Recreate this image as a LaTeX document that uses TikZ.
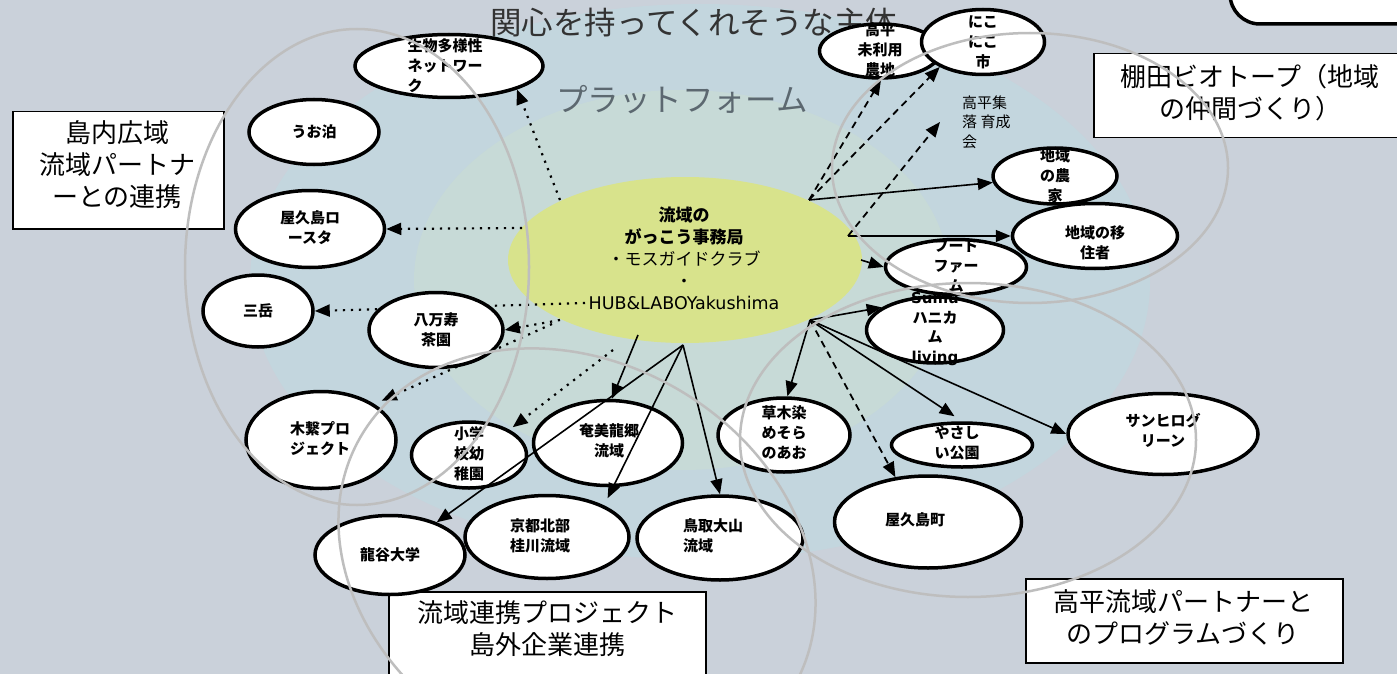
\documentclass[tikz,border=0pt]{standalone}
\usepackage{fontspec}
\setmainfont{Noto Sans CJK JP}
\newfontfamily\latinfont{DejaVu Sans}
\usetikzlibrary{shapes.geometric,arrows.meta}
\pgfdeclarelayer{bglayer}
\pgfdeclarelayer{dotlayer}
\pgfdeclarelayer{toplayer}
\pgfsetlayers{bglayer,dotlayer,main,toplayer}
\definecolor{bg}{RGB}{202,209,218}
\definecolor{outerblue}{RGB}{195,214,222}
\definecolor{innerteal}{RGB}{199,218,215}
\definecolor{hubyellow}{RGB}{216,227,140}
\definecolor{ringgray}{RGB}{190,190,190}
\definecolor{titlegray}{RGB}{51,51,51}
\definecolor{platgray}{RGB}{92,104,112}
\begin{document}
\begin{tikzpicture}[x=1pt,y=-1pt,
  ent/.style={ellipse, draw=black, fill=white, line width=3.5pt, inner sep=0pt},
  entlab/.style={font=\bfseries\fontsize{15}{20}\selectfont, align=center, inner sep=0pt},
  rectbox/.style={draw=black, fill=white, line width=1.5pt, inner sep=0pt},
  boxlab/.style={font=\fontsize{26}{32}\selectfont, align=center, inner sep=0pt},
  con/.style={line width=1.6pt, -{Triangle[length=15pt,width=12pt]}},
  dotcon/.style={con, line width=2.2pt, dash pattern=on 2.2pt off 5.8pt},
  dashcon/.style={con, line width=1.8pt, dash pattern=on 7pt off 5pt},
  ring/.style={draw=ringgray, line width=2.5pt}
]
\useasboundingbox (0,0) rectangle (1397,674);

\begin{pgfonlayer}{bglayer}
\fill[bg] (0,0) rectangle (1397,674);
\fill[outerblue] (700,282) ellipse [x radius=450, y radius=278];
\fill[innerteal] (682,280) ellipse [x radius=268, y radius=190];
\node[ellipse, fill=hubyellow, minimum width=354, minimum height=166, inner sep=0pt] (hub) at (685,260) {};
\node[font=\fontsize{31.5}{32}\selectfont, text=titlegray, anchor=west, inner sep=0pt] (title) at (490,23) {関心を持ってくれそうな主体};
\node[font=\fontsize{31.5}{32}\selectfont, text=platgray, inner sep=0pt] (plat) at (682,100) {プラットフォーム};
\node[align=center, inner sep=0pt, font=\fontsize{17}{22}\selectfont] (hubT) at (684,258)
  {\textbf{流域の}\\\textbf{がっこう事務局}\\・モスガイドクラブ\\・\\{\latinfont\fontsize{17.5}{22}\selectfont HUB\&LABOYakushima}};
\end{pgfonlayer}

% boxes
\draw[line width=3.5pt, fill=white, rounded corners=30pt] (1230,-60) rectangle (1460,24);
\node[rectbox, anchor=north west, minimum width=211, minimum height=117] (boxA) at (12,111) {};
\node[rectbox, anchor=north west, minimum width=340, minimum height=84] (boxB) at (1093,53) {};
\node[rectbox, anchor=north west, minimum width=317, minimum height=120] (boxC) at (388,591) {};
\node[rectbox, anchor=north west, minimum width=317, minimum height=84] (boxD) at (1025,578) {};
\node[boxlab] (boxAT) at (117,165) {島内広域\\流域パートナ\\ーとの連携};
\node[boxlab] (boxBT) at (1250,92.5) {棚田ビオトープ（地域\\の仲間づくり）};
\node[boxlab] (boxCT) at (547,628.5) {流域連携プロジェクト\\島外企業連携};
\node[boxlab] (boxDT) at (1183,617.5) {高平流域パートナーと\\のプログラムづくり};

% entity ellipses
\node[ent, minimum width=188, minimum height=63] (seibutsu) at (449,66) {};
\node[ent, minimum width=130, minimum height=65] (uotomari) at (314,132) {};
\node[ent, minimum width=149, minimum height=77] (rosuta) at (310,229) {};
\node[ent, minimum width=110, minimum height=72] (mitake) at (258,311) {};
\node[ent, minimum width=134, minimum height=75] (yamanju) at (436,330) {};
\node[ent, minimum width=150, minimum height=97] (kotsunagi) at (321,440) {};
\node[ent, minimum width=115, minimum height=66] (shogaku) at (469,455) {};
\node[ent, minimum width=149, minimum height=85] (amami) at (608,443) {};
\node[ent, minimum width=150, minimum height=79] (ryukoku) at (390,555) {};
\node[ent, minimum width=164, minimum height=83] (kyoto) at (547,537) {};
\node[ent, minimum width=166, minimum height=84] (tottori) at (720,538) {};
\node[ent, minimum width=132, minimum height=74] (kusaki) at (784,435) {};
\node[ent, minimum width=187, minimum height=92] (yakucho) at (928,522) {};
\node[ent, minimum width=141, minimum height=44] (yasashii) at (962,445) {};
\node[ent, minimum width=190, minimum height=81] (sanhiro) at (1163,434) {};
\node[ent, minimum width=137, minimum height=66] (sumu) at (935,330) {};
\node[ent, minimum width=141, minimum height=55] (food) at (956,267) {};
\node[ent, minimum width=165, minimum height=65] (ijusha) at (1095,236) {};
\node[ent, minimum width=124, minimum height=56] (noka) at (1055,176) {};
\node[ent, minimum width=121, minimum height=54] (mirio) at (880,51) {};
\node[ent, minimum width=123, minimum height=65] (nikoniko) at (983,42) {};

% entity labels
\node[entlab, align=left] (seibutsuT) at (445,66) {生物多様性\\ネットワー\\ク};
\node[entlab] (uotomariT) at (314,132) {うお泊};
\node[entlab] (rosutaT) at (310,228) {屋久島ロ\\ースタ};
\node[entlab] (mitakeT) at (258,311) {三岳};
\node[entlab] (yamanjuT) at (436,330) {八万寿\\茶園};
\node[entlab] (kotsunagiT) at (320,439) {木繋プロ\\ジェクト};
\node[entlab] (shogakuT) at (469,454) {小学\\校幼\\稚園};
\node[entlab] (amamiT) at (609,441) {奄美龍郷\\流域};
\node[entlab] (ryukokuT) at (390,555) {龍谷大学};
\node[entlab] (kyotoT) at (540,536) {京都北部\\桂川流域};
\node[entlab, align=left] (tottoriT) at (713,536) {鳥取大山\\流域};
\node[entlab] (kusakiT) at (784,433) {草木染\\めそら\\のあお};
\node[entlab] (yakuchoT) at (915,520) {屋久島町};
\node[entlab] (yasashiiT) at (957,443) {やさし\\い公園};
\node[entlab] (sanhiroT) at (1163,430) {サンヒログ\\リーン};
\node[entlab, font=\bfseries\fontsize{15}{19.5}\selectfont] (sumuT) at (935,329) {{\latinfont\bfseries Sumu}\\ハニカ\\ム\\{\latinfont\bfseries living}};
\node[entlab] (foodT) at (956,266) {フード\\ファー\\ム};
\node[entlab] (ijushaT) at (1095,243) {地域の移\\住者};
\node[entlab] (nokaT) at (1055,176) {地域\\の農\\家};
\node[entlab] (mirioT) at (880,50) {高平\\未利用\\農地};
\node[entlab] (nikonikoT) at (983,42) {にこ\\にこ\\市};
\node[font=\fontsize{15}{19.5}\selectfont, align=left, anchor=west, inner sep=0pt] (shuraku) at (962,122) {高平集\\落 育成\\会};

% connector start points
\coordinate (p1) at (560,200);
\coordinate (p2) at (522,228);
\coordinate (p3) at (585,303);
\coordinate (p4) at (560,320);
\coordinate (p5) at (552,324);
\coordinate (p6) at (613,350);
\coordinate (q1) at (638,335);
\coordinate (q2) at (683,345);
\coordinate (r1) at (809,200);
\coordinate (r2) at (848,236);
\coordinate (r3) at (861,260);
\coordinate (r4) at (810,320);
\coordinate (shurakuEnd) at (940,122);

\begin{pgfonlayer}{dotlayer}
\draw[dotcon] (p1) -- (seibutsu.-19);
\draw[dotcon] (p2) -- (rosuta.east);
\draw[dotcon] (p3) -- (mitake.east);
\draw[dotcon] (p4) -- (yamanju.east);
\draw[dotcon, shorten >=8pt] (p5) -- (kotsunagi.34);
\draw[dotcon, shorten >=4pt] (p6) -- (shogaku.32);
\end{pgfonlayer}

\begin{pgfonlayer}{toplayer}
\draw[con] (q1) -- (amami.85);
\draw[con] (q2) -- (ryukoku.35);
\draw[con, shorten >=8pt] (q2) -- (kyoto.29);
\draw[con] (q2) -- (tottori.north);
\draw[dashcon] (r1) -- (mirio.-88);
\draw[dashcon] (r1) -- (nikoniko.-150);
\draw[con] (r1) -- (noka.-174);
\draw[dashcon] (r2) -- (shurakuEnd);
\draw[con] (r2) -- (ijusha.west);
\draw[con] (r3) -- (food.west);
\draw[con] (r4) -- (sumu.157);
\draw[con] (r4) -- (kusaki.85);
\draw[dashcon] (r4) -- (yakucho.126);
\draw[con, shorten >=9pt] (r4) -- (yasashii.north);
\draw[con] (r4) -- (sanhiro.west);
% grey rings
\draw[ring] (357,267) ellipse [x radius=172, y radius=238];
\draw[ring] (1030,168) ellipse [x radius=198, y radius=135];
\draw[ring] (968,440) ellipse [x radius=228, y radius=157];
\draw[ring, rotate around={-30:(577,562)}] (577,562) ellipse [x radius=250, y radius=200];
\end{pgfonlayer}
\end{tikzpicture}
\end{document}
